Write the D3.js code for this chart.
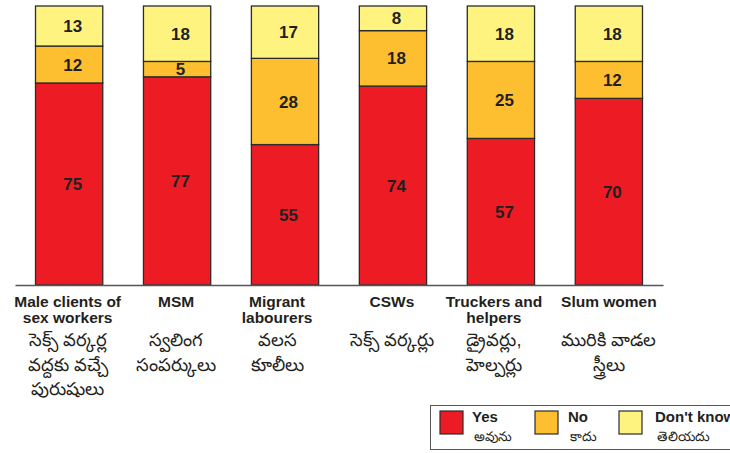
<!DOCTYPE html>
<html><head><meta charset="utf-8">
<script src="https://cdn.jsdelivr.net/npm/d3@7"></script>
<style>
html,body{margin:0;padding:0;background:#fff;overflow:hidden;}
svg{display:block;}
text{font-family:"Liberation Sans",Arial,sans-serif;}
</style></head>
<body>
<svg id="c" width="730" height="453"></svg>
<script>
const categories = ["Male clients of sex workers","MSM","Migrant labourers","CSWs","Truckers and helpers","Slum women"];
const catLinesEn = [["Male clients of","sex workers"],["MSM"],["Migrant","labourers"],["CSWs"],["Truckers and","helpers"],["Slum women"]];
const catLinesTe = [["సెక్స్ వర్కర్ల","వద్దకు వచ్చే","పురుషులు"],["స్వలింగ","సంపర్కులు"],["వలస","కూలీలు"],["సెక్స్ వర్కర్లు"],["డ్రైవర్లు,","హెల్పర్లు"],["మురికి వాడల","స్త్రీలు"]];
const yesValues = [75,77,55,74,57,70];
const noValues = [12,5,28,18,25,12];
const dkValues = [13,18,17,8,18,18];
const seriesNames = ["Yes","No","Don't know"];
const seriesNamesTe = ["అవును","కాదు","తెలియదు"];
const colors = ["#ED1C24","#FDBF2F","#FFF380"];
const yDomain = [9.4,100];

// layout constants (label nudges, px)
const labelNudge = [-1.5,-1,-8,-1,-7,0];

const teFont = "'Noto Sans Telugu','Lohit Telugu','Noto Sans','DejaVu Sans',sans-serif";
const svg = d3.select("#c");
const x = d3.scaleBand().domain(categories).range([15,663]).paddingInner(0.377).paddingOuter(0.19);
const y = d3.scaleLinear().domain(yDomain).range([285,6]).clamp(true);

const rows = categories.map((c,i)=>({cat:c, Yes:yesValues[i], No:noValues[i], "Don't know":dkValues[i]}));
const stacked = d3.stack().keys(seriesNames)(rows);

const g = svg.append("g");
stacked.forEach((s,si)=>{
  g.selectAll(null).data(s).enter().append("rect")
    .attr("x",d=>x(d.data.cat))
    .attr("width",x.bandwidth())
    .attr("y",d=>y(d[1]))
    .attr("height",d=>y(d[0])-y(d[1]))
    .attr("fill",colors[si])
    .attr("stroke","#2b2b2b").attr("stroke-width",1.3);
  g.selectAll(null).data(s).enter().append("text")
    .attr("x",d=>x(d.data.cat)+x.bandwidth()/2+3.5)
    .attr("y",d=>(y(d[0])+y(d[1]))/2)
    .attr("dy","0.36em")
    .attr("text-anchor","middle")
    .attr("font-size",17).attr("font-weight","bold").attr("fill","#231f20")
    .text(d=>d[1]-d[0]);
});

// baseline axis
const xAxis = d3.axisBottom(x).tickSize(0).tickFormat("");
const ax = svg.append("g").attr("transform","translate(0,285)").call(xAxis);
ax.select(".domain").attr("stroke","#555").attr("stroke-width",1.5);

// category labels
categories.forEach((c,i)=>{
  const cx = x(c)+x.bandwidth()/2+labelNudge[i];
  const t = svg.append("text").attr("text-anchor","middle").attr("font-size",15.5).attr("font-weight","bold").attr("fill","#231f20");
  catLinesEn[i].forEach((l,j)=>t.append("tspan").attr("x",cx).attr("y",306.5+j*16.5).text(l));
  const t2 = svg.append("text").attr("text-anchor","middle").attr("font-size",18).attr("fill","#231f20")
    .attr("font-family",teFont);
  catLinesTe[i].forEach((l,j)=>t2.append("tspan").attr("x",cx).attr("y",346+j*24.5).text(l));
});

// legend
const lg = svg.append("g");
lg.append("rect").attr("x",430.5).attr("y",405.5).attr("width",340).attr("height",44)
  .attr("fill","#fff").attr("stroke","#555").attr("stroke-width",1);
const legX = [440,535,619];
const legTextDx = [32,33,36];
seriesNames.forEach((n,i)=>{
  lg.append("rect").attr("x",legX[i]).attr("y",411).attr("width",23).attr("height",23)
    .attr("fill",colors[i]).attr("stroke","#2b2b2b").attr("stroke-width",1.2);
  lg.append("text").attr("x",legX[i]+legTextDx[i]).attr("y",422).attr("font-size",15).attr("font-weight","bold").attr("fill","#231f20").text(n);
  lg.append("text").attr("x",legX[i]+legTextDx[i]+2).attr("y",441).attr("font-size",13.5).attr("fill","#231f20")
    .attr("font-family",teFont).text(seriesNamesTe[i]);
});
</script>
</body></html>
